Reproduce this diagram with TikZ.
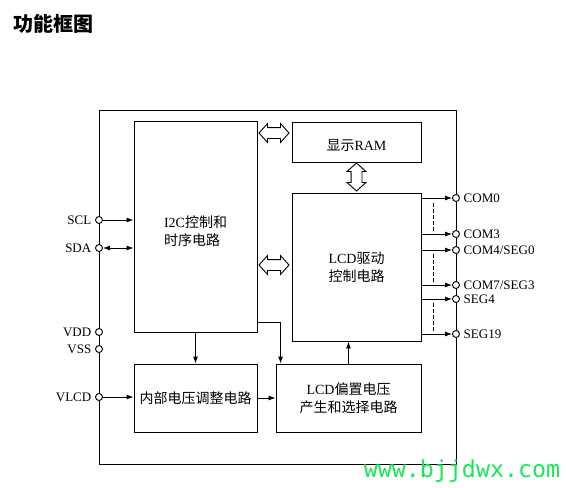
\documentclass[tikz,border=0pt]{standalone}
\usepackage{fontspec}
\setmainfont{Liberation Serif}
\newfontfamily\cjk{Noto Sans CJK SC}
\newfontfamily\webfont{DejaVu Sans Mono}
\usepackage{tikz}
\usetikzlibrary{arrows.meta,positioning,calc,shapes.arrows}
\definecolor{WebGreen}{HTML}{19E65A}

\begin{document}
\begin{tikzpicture}[x=1pt,y=-1pt,line width=0.9pt,
    >={Latex[length=7pt,width=5pt]},
    block/.style={draw,fill=white,inner sep=0pt,align=center,
      font=\fontsize{14}{18}\selectfont},
    port/.style={circle,draw,fill=white,inner sep=0pt,minimum size=7pt},
    every label/.style={font=\fontsize{13}{15}\selectfont},
    hollow/.style={double arrow,draw,fill=white,inner sep=5pt,
      minimum height=30pt,
      double arrow head extend=4pt,double arrow tip angle=96}]
  \useasboundingbox (0,0) rectangle (566,488);
  \node[font=\cjk\bfseries\fontsize{20}{20}\selectfont] (title) at (53,24) {功能框图};

  % chip outline
  \node[draw,inner sep=0pt,minimum width=357pt,minimum height=354pt] (chip) at (277.5,287) {};

  % blocks
  \node[block,minimum width=123pt,minimum height=211pt] (i2c) at (195.5,226.5) {};
  \node[font=\fontsize{14}{18}\selectfont,align=left] (i2ctext) at ($(i2c.center)+(0,5)$)
    {I2C{\cjk 控制和}\\{\cjk 时序电路}};
  \node[block,minimum width=129pt,minimum height=40pt] (ram) at (356.5,142) {};
  \node[font=\fontsize{14}{18}\selectfont] (ramtext) at ($(ram.center)+(0,4)$) {{\cjk 显示}RAM};
  \node[block,minimum width=129pt,minimum height=148pt] (lcd) at (356.5,267)
    {LCD{\cjk 驱动}\\{\cjk 控制电路}};
  \node[block,minimum width=123pt,minimum height=68pt] (vreg) at (195.5,398) {{\cjk 内部电压调整电路}};
  \node[block,minimum width=145pt,minimum height=68pt] (bias) at (348.5,398)
    {LCD{\cjk 偏置电压}\\{\cjk 产生和选择电路}};

  % bus arrows
  \node[hollow] (ramlink) at (274,133) {};
  \node[hollow] (lcdlink) at (274,265) {};
  \node[hollow,shape border rotate=90,minimum height=28pt] (buslink) at (356.5,177) {};

  % left pins
  \node[port,label=left:SCL] (scl) at (99,220) {};
  \node[port,label=left:SDA] (sda) at (99,248) {};
  \node[port,label=left:VDD] (vdd) at (99,332) {};
  \node[port,label=left:VSS] (vss) at (99,349) {};
  \node[port,label=left:VLCD] (vlcd) at (99,397) {};

  % right pins
  \node[port,label=right:COM0] (com0) at (456,198) {};
  \node[port,label=right:COM3] (com3) at (456,234) {};
  \node[port,label=right:COM4/SEG0] (com4) at (456,250) {};
  \node[port,label=right:COM7/SEG3] (com7) at (456,285) {};
  \node[port,label=right:SEG4] (seg4) at (456,299) {};
  \node[port,label=right:SEG19] (seg19) at (456,334) {};

  \draw[->] (scl) -- (scl -| i2c.west);
  \draw[<->] (sda) -- (sda -| i2c.west);
  \draw[->] (vlcd) -- (vlcd -| vreg.west);
  \draw[->] (i2c) -- (vreg);
  \draw[->] ($(i2c.south east)+(0,-10)$) -| ($(bias.north west)+(5,0)$);
  \draw[->] (bias.north) -- (bias.north |- lcd.south);
  \draw[->] (vreg) -- (bias);

  \foreach \p in {com0,com3,com4,com7,seg4,seg19}
    \draw[->] (lcd.east |- \p) -- (\p);
  \draw[dash pattern=on 4pt off 2pt] ($(lcd.east |- com0)+(12,5)$) -- ($(lcd.east |- com3)+(12,-1)$);
  \draw[dash pattern=on 4pt off 2pt] ($(lcd.east |- com4)+(12,4)$) -- ($(lcd.east |- com7)+(12,-3)$);
  \draw[dash pattern=on 4pt off 2pt] ($(lcd.east |- seg4)+(12,4)$) -- ($(lcd.east |- seg19)+(12,-2)$);

  \node[font=\webfont\fontsize{23.3}{24}\selectfont,text=WebGreen] (web) at (462,471) {www.bjjdwx.com};
\end{tikzpicture}
\end{document}
